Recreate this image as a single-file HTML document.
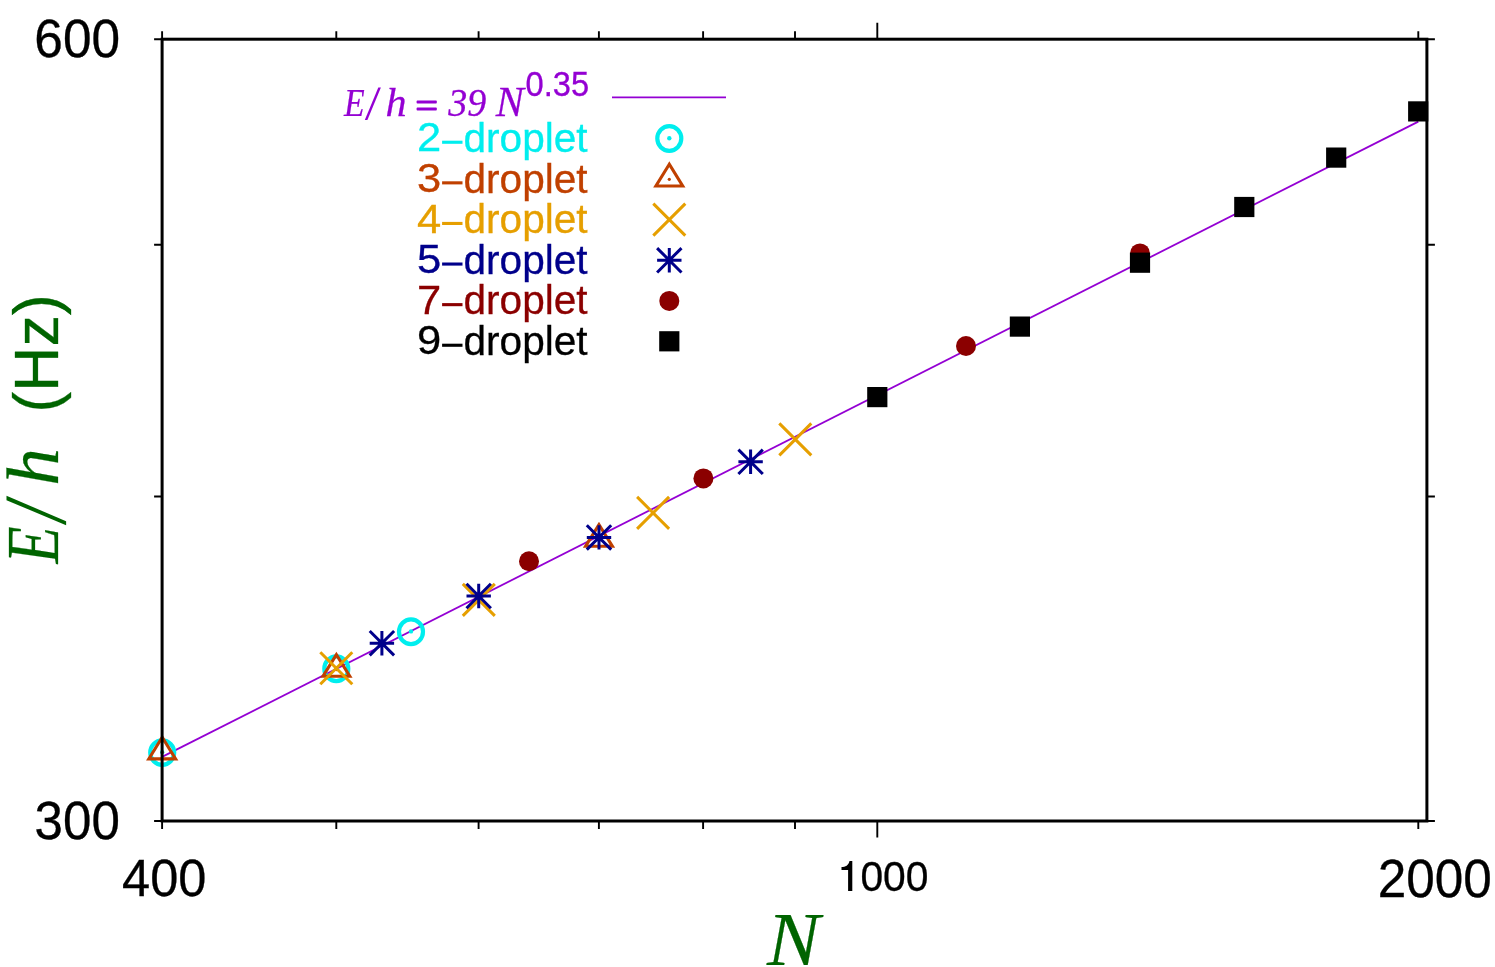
<!DOCTYPE html>
<html><head><meta charset="utf-8"><title>E/h vs N</title>
<style>html,body{margin:0;padding:0;background:#fff;}svg{display:block;}.sa{font-family:"Liberation Sans",sans-serif;}.se{font-family:"Liberation Serif",serif;font-style:italic;}</style></head><body>
<svg width="1495" height="967" viewBox="0 0 1495 967" style="will-change:transform">
<rect width="1495" height="967" fill="#fff"/>
<line x1="162.1" y1="756.9" x2="1418.3" y2="121.6" stroke="#9400d3" stroke-width="1.8"/>
<line x1="612" y1="97.3" x2="726" y2="97.3" stroke="#9400d3" stroke-width="1.8"/>
<ellipse cx="162.2" cy="752.6" rx="12.0" ry="12.35" fill="none" stroke="#00eeee" stroke-width="4.2"/><circle cx="162.2" cy="752.3" r="2.2" fill="#00eeee"/>
<ellipse cx="336.3" cy="668.7" rx="12.0" ry="12.35" fill="none" stroke="#00eeee" stroke-width="4.2"/><circle cx="336.3" cy="668.4" r="2.2" fill="#00eeee"/>
<ellipse cx="411.0" cy="631.7" rx="12.0" ry="12.35" fill="none" stroke="#00eeee" stroke-width="4.2"/><circle cx="411.0" cy="631.4" r="2.2" fill="#00eeee"/>
<ellipse cx="669.3" cy="138.5" rx="12.0" ry="12.35" fill="none" stroke="#00eeee" stroke-width="4.2"/><circle cx="669.3" cy="138.2" r="2.2" fill="#00eeee"/>
<path d="M162.2 737.2 L148.8 758.9 L175.6 758.9 Z" fill="none" stroke="#c04000" stroke-width="3.1" stroke-linejoin="miter"/><circle cx="162.2" cy="752.2" r="1.6" fill="#c04000"/>
<path d="M336.4 654.6 L323.0 676.3 L349.8 676.3 Z" fill="none" stroke="#c04000" stroke-width="3.1" stroke-linejoin="miter"/><circle cx="336.4" cy="669.6" r="1.6" fill="#c04000"/>
<path d="M599.0 524.6 L585.6 546.3 L612.4 546.3 Z" fill="none" stroke="#c04000" stroke-width="3.1" stroke-linejoin="miter"/><circle cx="599.0" cy="539.6" r="1.6" fill="#c04000"/>
<path d="M669.3 164.3 L655.9 186.0 L682.7 186.0 Z" fill="none" stroke="#c04000" stroke-width="3.1" stroke-linejoin="miter"/><circle cx="669.3" cy="179.3" r="1.6" fill="#c04000"/>
<path d="M320.3 652.2 L352.3 684.2 M320.3 684.2 L352.3 652.2" fill="none" stroke="#e69f00" stroke-width="3.0"/>
<path d="M462.8 583.9 L494.8 615.9 M462.8 615.9 L494.8 583.9" fill="none" stroke="#e69f00" stroke-width="3.0"/>
<path d="M637.1 496.9 L669.1 528.9 M637.1 528.9 L669.1 496.9" fill="none" stroke="#e69f00" stroke-width="3.0"/>
<path d="M779.3 423.4 L811.3 455.4 M779.3 455.4 L811.3 423.4" fill="none" stroke="#e69f00" stroke-width="3.0"/>
<path d="M653.3 203.6 L685.3 235.6 M653.3 235.6 L685.3 203.6" fill="none" stroke="#e69f00" stroke-width="3.0"/>
<path d="M369.7 643.2 L394.1 643.2 M381.9 631.0 L381.9 655.4 M369.7 631.0 L394.1 655.4 M369.7 655.4 L394.1 631.0" fill="none" stroke="#00008b" stroke-width="3.0"/>
<path d="M466.5 596.0 L490.9 596.0 M478.7 583.8 L478.7 608.2 M466.5 583.8 L490.9 608.2 M466.5 608.2 L490.9 583.8" fill="none" stroke="#00008b" stroke-width="3.0"/>
<path d="M586.8 537.4 L611.2 537.4 M599.0 525.2 L599.0 549.6 M586.8 525.2 L611.2 549.6 M586.8 549.6 L611.2 525.2" fill="none" stroke="#00008b" stroke-width="3.0"/>
<path d="M738.4 461.8 L762.8 461.8 M750.6 449.6 L750.6 474.0 M738.4 449.6 L762.8 474.0 M738.4 474.0 L762.8 449.6" fill="none" stroke="#00008b" stroke-width="3.0"/>
<path d="M657.1 260.3 L681.5 260.3 M669.3 248.1 L669.3 272.5 M657.1 248.1 L681.5 272.5 M657.1 272.5 L681.5 248.1" fill="none" stroke="#00008b" stroke-width="3.0"/>
<circle cx="529.0" cy="561.3" r="10.0" fill="#8b0000"/>
<circle cx="703.4" cy="478.4" r="10.0" fill="#8b0000"/>
<circle cx="966.0" cy="346.0" r="10.0" fill="#8b0000"/>
<circle cx="1140.0" cy="253.4" r="10.0" fill="#8b0000"/>
<circle cx="669.3" cy="300.9" r="10.0" fill="#8b0000"/>
<rect x="867.2" y="387.0" width="20.2" height="20.2" fill="#000"/>
<rect x="1009.8" y="316.5" width="20.2" height="20.2" fill="#000"/>
<rect x="1129.9" y="252.6" width="20.2" height="20.2" fill="#000"/>
<rect x="1234.2" y="196.9" width="20.2" height="20.2" fill="#000"/>
<rect x="1326.1" y="147.5" width="20.2" height="20.2" fill="#000"/>
<rect x="1408.1" y="101.3" width="20.2" height="20.2" fill="#000"/>
<rect x="659.2" y="331.2" width="20.2" height="20.2" fill="#000"/>
<rect x="162.1" y="39.2" width="1264.8" height="781.8" fill="none" stroke="#000" stroke-width="3.0"/>
<path d="M162.1 821.0 v8 M162.1 39.2 v-8 M336.3 821.0 v8 M336.3 39.2 v-8 M478.6 821.0 v8 M478.6 39.2 v-8 M598.9 821.0 v8 M598.9 39.2 v-8 M703.1 821.0 v8 M703.1 39.2 v-8 M795.0 821.0 v8 M795.0 39.2 v-8 M877.3 821.0 v16.5 M877.3 39.2 v-16.5 M1418.3 821.0 v8 M1418.3 39.2 v-8 M162.1 821.0 h-8 M1426.9 821.0 h8 M162.1 496.5 h-8 M1426.9 496.5 h8 M162.1 244.8 h-8 M1426.9 244.8 h8 M162.1 39.2 h-8 M1426.9 39.2 h8" fill="none" stroke="#000" stroke-width="1.9"/>
<text class="sa" transform="translate(34.35,56.57) scale(1.0201,1.0517)" font-size="50.4" fill="#000" stroke="#000" stroke-width="0.3">600</text>
<text class="sa" transform="translate(34.57,838.77) scale(1.0138,1.0545)" font-size="50.4" fill="#000" stroke="#000" stroke-width="0.3">300</text>
<text class="sa" transform="translate(122.05,896.48) scale(1.0031,1.0434)" font-size="50.4" fill="#000" stroke="#000" stroke-width="0.3">400</text>
<text class="sa" transform="translate(860.40,890.53) scale(1.0023,1.0643)" font-size="40.7" fill="#000" stroke="#000" stroke-width="0.3">000</text>
<text class="sa" transform="translate(1377.65,896.87) scale(1.0186,1.0601)" font-size="50.4" fill="#000" stroke="#000" stroke-width="0.3">2000</text>
<path d="M852.3 890.9 L848.1 890.9 L848.1 870.0 L841.5 870.0 L841.5 867.1 C845.5 867.1 848.6 865.4 849.5 861.0 L852.3 861.0 Z" fill="#000"/>
<text class="se" transform="translate(766.91,964.70) scale(1.0281,0.9822)" font-size="77" fill="#006400" stroke="#006400" stroke-width="0.25">N</text>
<text class="sa" transform="translate(58.09,412.79) rotate(-90) scale(0.9964,1.0085)" font-size="63" fill="#006400" stroke="#006400" stroke-width="0.3">(Hz)</text>
<text class="se" transform="translate(58.40,563.61) rotate(-90) scale(0.7872,0.9703)" font-size="77" fill="#006400" stroke="#006400" stroke-width="0.25">E</text>
<text class="se" transform="translate(58.40,485.69) rotate(-90) scale(0.9785,0.9682)" font-size="77" fill="#006400" stroke="#006400" stroke-width="0.25">h</text>
<polygon points="6.5,495.8 6.5,500.2 66.1,525.2 66.1,521.2" fill="#006400"/>
<text class="sa" transform="translate(417.06,151.30) scale(1.0703,1.0211)" font-size="40.7" fill="#00eeee" stroke="#00eeee" stroke-width="0.3">2</text>
<text class="sa" transform="translate(463.56,151.96) scale(0.9967,1.0053)" font-size="40.7" fill="#00eeee" stroke="#00eeee" stroke-width="0.3">droplet</text>
<rect x="442.1" y="140.70" width="20.4" height="3.1" fill="#00eeee"/>
<text class="sa" transform="translate(417.06,191.90) scale(1.0703,1.0211)" font-size="40.7" fill="#c04000" stroke="#c04000" stroke-width="0.3">3</text>
<text class="sa" transform="translate(463.56,192.56) scale(0.9967,1.0053)" font-size="40.7" fill="#c04000" stroke="#c04000" stroke-width="0.3">droplet</text>
<rect x="442.1" y="181.30" width="20.4" height="3.1" fill="#c04000"/>
<text class="sa" transform="translate(417.06,232.50) scale(1.0703,1.0211)" font-size="40.7" fill="#e69f00" stroke="#e69f00" stroke-width="0.3">4</text>
<text class="sa" transform="translate(463.56,233.16) scale(0.9967,1.0053)" font-size="40.7" fill="#e69f00" stroke="#e69f00" stroke-width="0.3">droplet</text>
<rect x="442.1" y="221.90" width="20.4" height="3.1" fill="#e69f00"/>
<text class="sa" transform="translate(417.06,273.10) scale(1.0703,1.0211)" font-size="40.7" fill="#00008b" stroke="#00008b" stroke-width="0.3">5</text>
<text class="sa" transform="translate(463.56,273.76) scale(0.9967,1.0053)" font-size="40.7" fill="#00008b" stroke="#00008b" stroke-width="0.3">droplet</text>
<rect x="442.1" y="262.50" width="20.4" height="3.1" fill="#00008b"/>
<text class="sa" transform="translate(417.06,313.70) scale(1.0703,1.0211)" font-size="40.7" fill="#8b0000" stroke="#8b0000" stroke-width="0.3">7</text>
<text class="sa" transform="translate(463.56,314.36) scale(0.9967,1.0053)" font-size="40.7" fill="#8b0000" stroke="#8b0000" stroke-width="0.3">droplet</text>
<rect x="442.1" y="303.10" width="20.4" height="3.1" fill="#8b0000"/>
<text class="sa" transform="translate(417.06,354.30) scale(1.0703,1.0211)" font-size="40.7" fill="#000" stroke="#000" stroke-width="0.3">9</text>
<text class="sa" transform="translate(463.56,354.96) scale(0.9967,1.0053)" font-size="40.7" fill="#000" stroke="#000" stroke-width="0.3">droplet</text>
<rect x="442.1" y="343.70" width="20.4" height="3.1" fill="#000"/>
<text class="se" transform="translate(343.92,115.70) scale(0.8454,0.9981)" font-size="40" fill="#9400d3" stroke="#9400d3" stroke-width="0.25">E</text>
<text class="se" transform="translate(385.41,116.00) scale(1.0567,1.0270)" font-size="40" fill="#9400d3" stroke="#9400d3" stroke-width="0.25">h</text>
<text class="se" transform="translate(448.30,115.85) scale(0.9529,1.0131)" font-size="40" fill="#9400d3" stroke="#9400d3" stroke-width="0.25">39</text>
<text class="se" transform="translate(495.86,116.10) scale(1.0539,1.0324)" font-size="40" fill="#9400d3" stroke="#9400d3" stroke-width="0.25">N</text>
<text class="sa" transform="translate(525.54,95.64) scale(1.0041,1.0565)" font-size="32.5" fill="#9400d3" stroke="#9400d3" stroke-width="0.3">0.35</text>
<polygon points="364.8,119.9 367.4,119.9 380.9,87.4 378.3,87.4" fill="#9400d3"/>
<rect x="416.6" y="100.6" width="20.2" height="2.9" rx="0.8" fill="#9400d3"/>
<rect x="416.6" y="107.6" width="20.2" height="2.9" rx="0.8" fill="#9400d3"/>
</svg></body></html>
